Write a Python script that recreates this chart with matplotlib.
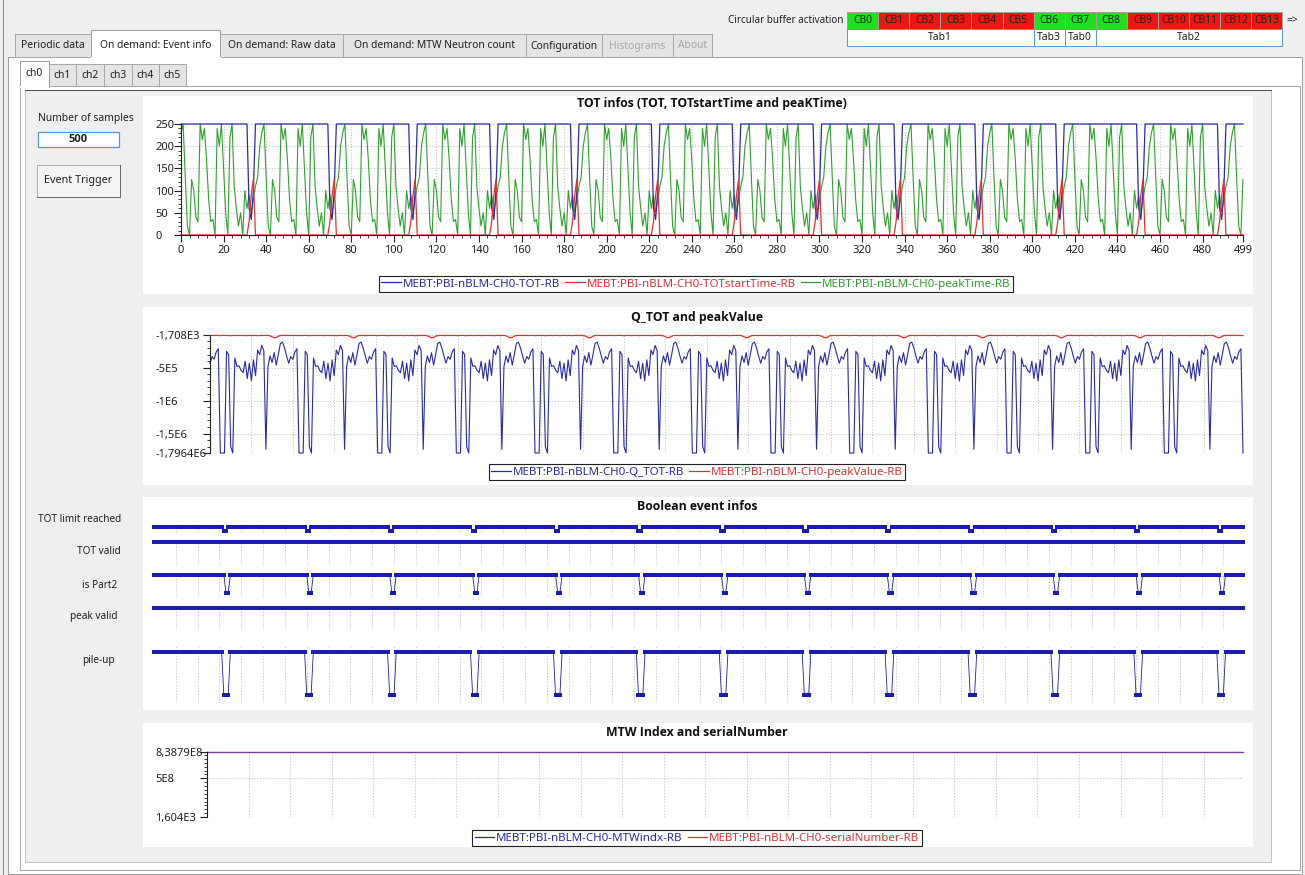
import numpy as np
import matplotlib
matplotlib.use('Agg')
import matplotlib.pyplot as plt
from matplotlib.patches import Rectangle
from matplotlib.lines import Line2D
from matplotlib.ticker import MultipleLocator

plt.rcParams['font.family'] = ['Noto Sans', 'DejaVu Sans']
plt.rcParams['font.size'] = 7.4

# ---- data (one 38 sample event cycle, repeated) ----
n_samples = 500
cycle = 38
tot_cycle = [250] * 32 + [60, 35, 100] + [250] * 3
tot_start_cycle = [0] * 32 + [30, 90, 125] + [0] * 3
peak_time_cycle = [230, 250, 130, 20, 0, 125, 100, 40, 30, 250, 215, 240, 170, 80, 30, 35,
                   0, 240, 200, 250, 150, 50, 0, 220, 250, 110, 60, 20, 50, 0, 100, 60,
                   90, 50, 80, 110, 130, 200]
qtot_cycle = [-430000, -330000, -370000, -260000, -210000, -1796400, -1796400, -1796400,
              -250000, -300000, -1700000, -1796400, -350000, -480000, -470000, -540000,
              -575000, -400000, -665000, -430000, -700000, -380000, -620000, -230000,
              -300000, -160000, -240000, -1740000, -480000, -320000, -420000, -270000,
              -460000, -300000, -130000, -110000, -200000, -320000]
peak_value_cycle = [-9000, -8000, -10000, -7000, -9000, -11000, -8000, -9000, -7000, -10000,
                    -12000, -9000, -8000, -10000, -9000, -7000, -8000, -11000, -9000, -8000,
                    -10000, -9000, -8000, -12000, -9000, -7000, -10000, -8000, -9000, -14000,
                    -30000, -45000, -40000, -20000, -10000, -8000, -9000, -10000]
tot_limit_cycle = [1] * 32 + [0, 0] + [1] * 4
tot_valid_cycle = [1] * 38
is_part2_cycle = [1] * 33 + [0, 0] + [1] * 3
peak_valid_cycle = [1] * 38
pile_up_cycle = [1] * 32 + [0, 0, 0] + [1] * 3
mtw_index_value = 838790000
serial_number_value = 838790000

bool_names = ['TOT limit reached', 'TOT valid', 'is Part2', 'peak valid', 'pile-up']

top_tabs = ['Periodic data', 'On demand: Event info', 'On demand: Raw data',
            'On demand: MTW Neutron count', 'Configuration', 'Histograms', 'About']
ch_tabs = ['ch0', 'ch1', 'ch2', 'ch3', 'ch4', 'ch5']
cb_labels = ['CB0', 'CB1', 'CB2', 'CB3', 'CB4', 'CB5', 'CB6', 'CB7', 'CB8', 'CB9',
             'CB10', 'CB11', 'CB12', 'CB13']
cb_active = [1, 0, 0, 0, 0, 0, 1, 1, 1, 0, 0, 0, 0, 0]
cb_groups = ['Tab1', 'Tab3', 'Tab0', 'Tab2']
cb_group_size = [6, 1, 1, 6]


def repeat(c):
    return np.tile(np.array(c, dtype=float), n_samples // cycle + 1)[:n_samples]


samples = np.arange(n_samples)
tot = repeat(tot_cycle)
tot_start = repeat(tot_start_cycle)
peak_time = repeat(peak_time_cycle)
qtot = repeat(qtot_cycle)
peak_value = repeat(peak_value_cycle)
bools = [repeat(c) for c in [tot_limit_cycle, tot_valid_cycle, is_part2_cycle,
                             peak_valid_cycle, pile_up_cycle]]

# ---- figure in pixel coordinates ----
W, H = 1305, 875
fig = plt.figure(figsize=(W / 100, H / 100), dpi=100, facecolor='#efefef')
PT = 0.72  # one pixel in points

BLUE = '#2a2aa8'
RED = '#e23030'
GREEN = '#2ea02e'
BOLD = ['Open Sans', 'Lato', 'DejaVu Sans']


def fx(x):
    return x / W


def fy(y):
    return 1 - y / H


def rect(l, t, r, b, fc, ec='none', lw=PT, z=-5):
    fig.patches.append(Rectangle((fx(l), fy(b)), (r - l) / W, (b - t) / H,
                                 transform=fig.transFigure, facecolor=fc,
                                 edgecolor=ec, linewidth=lw, zorder=z))


def hline(x0, x1, y, c, lw=PT, z=-4):
    fig.add_artist(Line2D([fx(x0), fx(x1)], [fy(y), fy(y)], color=c, lw=lw, zorder=z))


def vline(x, y0, y1, c, lw=PT, z=-4):
    fig.add_artist(Line2D([fx(x), fx(x)], [fy(y0), fy(y1)], color=c, lw=lw, zorder=z))


def label(x, y, s, **kw):
    kw.setdefault('va', 'center')
    kw.setdefault('color', '#202020')
    fig.text(fx(x), fy(y), s, **kw)


def axes_px(l, t, r, b):
    ax = fig.add_axes([fx(l), fy(b), (r - l) / W, (b - t) / H])
    ax.set_facecolor('none')
    return ax


# window frames
vline(3, 0, 875, '#8a8a8a')
rect(8, 57, 1302, 874, '#ffffff', '#a0a0a0')
rect(20, 86, 1300, 870, '#ffffff', '#a8a8a8')
rect(25, 90, 1271, 862, '#efefef', '#c4c4c4')
hline(25, 1271, 90, '#505050')

# top tabs
top_edges = [15, 91, 220, 343, 526, 602, 673, 712]
for i, name in enumerate(top_tabs):
    l, r = top_edges[i], top_edges[i + 1]
    if i == 1:
        rect(l, 30, r, 58, '#ffffff', '#a0a0a0', z=-3)
        hline(l + 0.5, r - 0.5, 57.5, '#ffffff', lw=2 * PT, z=-2)
    else:
        rect(l, 34, r, 57, '#e4e4e4', '#a8a8a8', z=-4)
    col = '#a8a8a8' if i >= 5 else '#202020'
    label((l + r) / 2, 46 if i != 1 else 45, name, ha='center', color=col)

# channel tabs
ch_edges = [20, 49, 76, 104, 132, 159, 186]
for i, name in enumerate(ch_tabs):
    l, r = ch_edges[i], ch_edges[i + 1]
    if i == 0:
        rect(l, 61, r, 87, '#ffffff', '#a0a0a0', z=-3)
        hline(l + 0.5, r - 0.5, 86.5, '#ffffff', lw=2 * PT, z=-2)
    else:
        rect(l, 64, r, 86, '#e4e4e4', '#a8a8a8', z=-4)
    label((l + r) / 2, 75 if i else 74, name, ha='center')

# circular buffer widget
label(843, 20.5, 'Circular buffer activation', ha='right', fontsize=7.1)
cb_w = 31.1
for i, name in enumerate(cb_labels):
    l = 847 + i * cb_w
    rect(l, 12, l + cb_w, 29, '#1ee01e' if cb_active[i] else '#ee1515', '#a0a0a0', z=-3)
    label(l + cb_w / 2, 20.5, name, ha='center', color='#202020')
label(1286, 20.5, '=>', ha='left')
k = 0
for g, sz in zip(cb_groups, cb_group_size):
    l = 847 + k * cb_w
    r = l + sz * cb_w
    rect(l, 29, r, 46, '#ffffff', '#5d9bd8', z=-3)
    label((l + r) / 2, 37.5, g, ha='center')
    k += sz

# left controls
label(86, 119, 'Number of samples', ha='center')
rect(38, 132, 119, 147, '#ffffff', '#4f94d4', lw=1.2 * PT, z=-3)
label(78.5, 140, '500', ha='center', fontweight='bold', family=BOLD, fontsize=8)
rect(37, 165, 120, 197, '#f4f4f4', '#b0b0b0', z=-3)
hline(37, 120, 197, '#6a6a6a', z=-2)
vline(120, 165, 197, '#6a6a6a', z=-2)
label(78.5, 181, 'Event Trigger', ha='center', fontsize=7.8)

# white chart panels
for t, b in [(96, 294), (307, 485), (497, 710), (723, 847)]:
    rect(143, t, 1253, b, '#ffffff', z=-3)

title_kw = dict(ha='center', fontweight='bold', fontsize=8.8, family=BOLD, color='#101010')
label(712, 104, 'TOT infos (TOT, TOTstartTime and peaKTime)', **title_kw)
label(697, 317, 'Q_TOT and peakValue', **title_kw)
label(697, 506, 'Boolean event infos', **title_kw)
label(697, 733, 'MTW Index and serialNumber', **title_kw)

grid_x20 = list(range(20, 481, 20)) + [499]
grid_kw = dict(color='#c4c4c4', ls=(0, (1.2, 1.8)), lw=0.7)


def style_left(ax, pad_px):
    for s in ['top', 'right']:
        ax.spines[s].set_visible(False)
    ax.spines['left'].set_color('#202020')
    ax.spines['left'].set_linewidth(0.8)
    ax.tick_params(axis='y', which='major', length=5, width=0.8, colors='#202020',
                   pad=pad_px * PT, labelsize=8)
    ax.tick_params(axis='y', which='minor', length=2.5, width=0.6, colors='#202020')
    for t in ax.get_yticklabels():
        t.set_ha('left')


def legend(items, cx, cy):
    handles = [Line2D([], [], color=c, lw=0.9) for c, _ in items]
    fig.legend(handles, [n for _, n in items], loc='center',
               bbox_to_anchor=(fx(cx), fy(cy)), bbox_transform=fig.transFigure,
               ncol=len(items), frameon=True, fancybox=False, framealpha=1,
               edgecolor='#202020', labelcolor='linecolor', handlelength=1.7,
               handletextpad=0.15, columnspacing=0.45, borderpad=0.25,
               borderaxespad=0, fontsize=8.3).get_frame().set_linewidth(0.8)


# chart 1: TOT infos
ax1 = axes_px(181, 124, 1243, 235)
ax1.plot(samples, peak_time, color=GREEN, lw=0.8, clip_on=False)
ax1.plot(samples, tot, color=BLUE, lw=0.9, clip_on=False)
ax1.plot(samples, tot_start, color=RED, lw=0.9, clip_on=False)
ax1.set_xlim(0, 499)
ax1.set_ylim(0, 250)
ax1.set_xticks(list(range(0, 481, 20)) + [499])
ax1.xaxis.set_minor_locator(MultipleLocator(4))
ax1.set_yticks(range(0, 251, 50))
ax1.yaxis.set_minor_locator(MultipleLocator(10))
ax1.grid(True, which='major', **grid_kw)
style_left(ax1, 181 - 5 - 157)
ax1.spines['bottom'].set_color('#202020')
ax1.spines['bottom'].set_linewidth(0.8)
ax1.tick_params(axis='x', which='major', length=5, width=0.8, colors='#202020',
                pad=3 * PT, labelsize=8)
ax1.tick_params(axis='x', which='minor', length=2.5, width=0.6, colors='#202020')
legend([(BLUE, 'MEBT:PBI-nBLM-CH0-TOT-RB'), (RED, 'MEBT:PBI-nBLM-CH0-TOTstartTime-RB'),
        (GREEN, 'MEBT:PBI-nBLM-CH0-peakTime-RB')], 696, 284)

# chart 2: Q_TOT and peakValue
ax2 = axes_px(210, 335, 1243, 453)
ax2.plot(samples, qtot, color=BLUE, lw=0.8, clip_on=False)
ax2.plot(samples, peak_value, color=RED, lw=0.9, clip_on=False)
ax2.set_xlim(0, 499)
ax2.set_ylim(-1796400, -1708)
ax2.set_yticks([-1796400, -1500000, -1000000, -500000, -1708])
ax2.set_yticklabels(['-1,7964E6', '-1,5E6', '-1E6', '-5E5', '-1,708E3'])
ax2.yaxis.set_minor_locator(MultipleLocator(100000))
ax2.set_xticks(grid_x20)
ax2.tick_params(axis='x', length=0, labelbottom=False)
ax2.spines['bottom'].set_visible(False)
ax2.grid(True, which='major', **grid_kw)
style_left(ax2, 210 - 5 - 157)
legend([(BLUE, 'MEBT:PBI-nBLM-CH0-Q_TOT-RB'), (RED, 'MEBT:PBI-nBLM-CH0-peakValue-RB')],
       697, 472)

# chart 3: boolean rows (top pixel, pixel of 1, pixel of 0, bottom pixel)
rows = [(524, 527, 531, 533), (541, 542, 560, 565), (573, 575, 593, 597),
        (605, 608, 626, 630), (645, 652, 695, 703)]
label_pos = [(121, 519), (121, 552), (117, 585), (117, 617), (115, 660)]
grid_x10 = list(range(10, 491, 10)) + [499]
for i, (t, p1, p0, b) in enumerate(rows):
    ax = axes_px(154, t, 1243, b)
    scale = p0 - p1
    ax.set_ylim(-(b - p0) / scale, 1 + (p1 - t) / scale)
    ax.set_xlim(0, 499)
    ax.plot(samples, bools[i], color='#1c1cae', lw=0.6, marker='s', ms=2.2,
            mew=0, clip_on=False)
    ax.set_xticks(grid_x10)
    ax.set_yticks([])
    ax.tick_params(axis='x', length=0, labelbottom=False)
    for s in ax.spines.values():
        s.set_visible(False)
    ax.grid(True, axis='x', **grid_kw)
    label(label_pos[i][0], label_pos[i][1], bool_names[i], ha='right', fontsize=7.2)

# chart 4: MTW index and serial number
ax4 = axes_px(207, 752, 1243, 817)
ax4.plot(samples, np.full(n_samples, serial_number_value), color=RED, lw=0.9, clip_on=False)
ax4.plot(samples, np.full(n_samples, mtw_index_value), color='#4a4ad0', lw=0.9,
         alpha=0.7, clip_on=False)
ax4.set_xlim(0, 499)
ax4.set_ylim(1604, 838790000)
ax4.set_yticks([1604, 500000000, 838790000])
ax4.set_yticklabels(['1,604E3', '5E8', '8,3879E8'])
ax4.yaxis.set_minor_locator(MultipleLocator(50000000))
ax4.set_xticks(grid_x20)
ax4.tick_params(axis='x', length=0, labelbottom=False)
ax4.spines['bottom'].set_visible(False)
ax4.grid(True, which='major', **grid_kw)
style_left(ax4, 207 - 5 - 157)
legend([(BLUE, 'MEBT:PBI-nBLM-CH0-MTWindx-RB'), (RED, 'MEBT:PBI-nBLM-CH0-serialNumber-RB')],
       697, 838)

fig.savefig('out.png', dpi=100, facecolor=fig.get_facecolor())
